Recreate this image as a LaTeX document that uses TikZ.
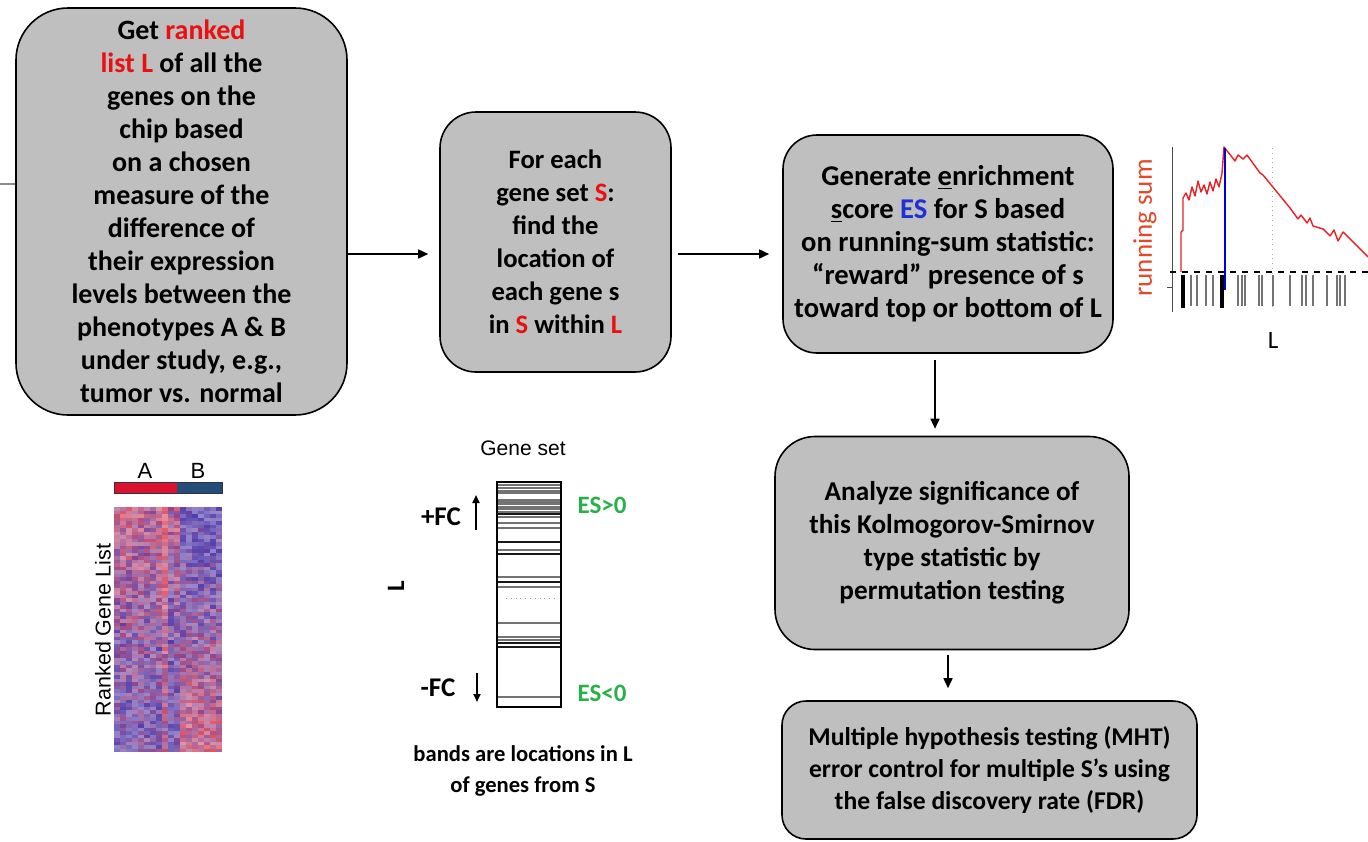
\documentclass[tikz,border=0pt]{standalone}
\usepackage{xcolor}
\usepackage{fontspec}
\setmainfont{Carlito}
\newfontfamily\arialfont{Liberation Sans}
\usepackage{tikz}
\usetikzlibrary{arrows.meta}

\definecolor{boxgray}{RGB}{191,191,191}
\definecolor{hlred}{RGB}{232,16,16}
\definecolor{esblue}{RGB}{32,48,215}
\definecolor{esgreen}{RGB}{40,176,75}
\definecolor{sumred}{RGB}{228,72,40}
\definecolor{curvered}{RGB}{235,30,35}
\definecolor{hmRed}{RGB}{228,70,85}
\definecolor{hmBlue}{RGB}{72,48,165}
\definecolor{barred}{RGB}{222,16,48}
\definecolor{barblue}{RGB}{34,78,120}

\tikzset{
  stepbox/.style={draw=black, line width=0.8pt, fill=boxgray, align=center,
    inner sep=0pt, font=\bfseries\fontsize{13.5}{16.5}\selectfont},
  flow/.style={-{Triangle[length=5pt,width=4.5pt]}, line width=0.8pt},
  boldlbl/.style={font=\bfseries\fontsize{12.5}{15.5}\selectfont, align=center, inner sep=0pt},
  band/.style={line width=0.6pt, black!55},
  darkband/.style={line width=0.8pt, black!90}
}

\begin{document}
\begin{tikzpicture}[x=0.5pt, y=-0.5pt]
    \useasboundingbox (0,0) rectangle (1368,841);

    % steps of the method
    \node[stepbox, font=\bfseries\fontsize{14}{16.5}\selectfont, minimum width=165.5pt, minimum height=203.5pt,
          rounded corners=26pt] (rank) at (181.5,211.5)
        {Get \textcolor{hlred}{ranked}\\ \textcolor{hlred}{list L} of all the\\ genes on the\\ chip based\\ on a chosen\\
         measure of the\\ difference of\\ their expression\\ levels between the\\ phenotypes A \& B\\ under study, e.g.,\\ tumor vs. normal};
    \node[stepbox, font=\bfseries\fontsize{13.3}{16.5}\selectfont, minimum width=115.5pt, minimum height=130pt,
          rounded corners=18pt] (locate) at (555.5,242)
        {For each\\ gene set \textcolor{hlred}{S}:\\ find the\\ location of\\ each gene s\\ in \textcolor{hlred}{S} within \textcolor{hlred}{L}};
    \node[stepbox, font=\bfseries\fontsize{14.3}{16.5}\selectfont, minimum width=165pt, minimum height=109pt,
          rounded corners=17pt] (score) at (948,244)
        {Generate \underline{e}nrichment\\ \underline{s}core \textcolor{esblue}{ES} for S based\\ on running-sum statistic:\\
         ``reward'' presence of s\\ toward top or bottom of L};
    \node[stepbox, font=\bfseries\fontsize{13.6}{16.5}\selectfont, minimum width=177pt, minimum height=106.5pt,
          rounded corners=20pt] (signif) at (952,543)
        {Analyze significance of\\ this Kolmogorov-Smirnov\\ type statistic by\\ permutation testing};
    \node[stepbox, font=\bfseries\fontsize{12.8}{16.2}\selectfont, minimum width=207.5pt, minimum height=69pt,
          rounded corners=12pt] (mht) at (989.5,770)
        {Multiple hypothesis testing (MHT)\\ error control for multiple S's using\\ the false discovery rate (FDR)};

    \coordinate (rowmid) at (0,254);
    \coordinate (colA) at (935,0);
    \coordinate (colB) at (948,0);
    \draw[flow, shorten >=5.5pt] (rank.east |- rowmid) -- (locate.west |- rowmid);
    \draw[flow, shorten <=3pt, shorten >=6.5pt] (locate.east |- rowmid) -- (score.west |- rowmid);
    \draw[flow, shorten <=3pt, shorten >=3.5pt] (score.south -| colA) -- (signif.north -| colA);
    \draw[flow, shorten <=2.5pt, shorten >=6pt] (signif.south -| colB) -- (mht.north -| colB);

    % stray line at the left border
    \draw[black!45, line width=0.8pt] (0,184) -- (15,184);

    % heat map of the ranked list
    \fill[barred] (114,482) rectangle (177,493);
    \fill[barblue] (177,482) rectangle (222,493);
    \draw[black!80, line width=0.5pt] (114,482) rectangle (222,493);
    \node[font=\arialfont\fontsize{11}{11}\selectfont] (lblA) at (145,471) {A};
    \node[font=\arialfont\fontsize{11}{11}\selectfont] (lblB) at (198,471) {B};
    \pgfmathsetseed{7}
    \foreach \c in {0,...,17}{
      \foreach \r in {0,...,69}{
        \pgfmathsetmacro{\t}{\r/69}
        \pgfmathsetmacro{\p}{(\c<11 ? 0.62-0.55*\t : -0.15+0.9*\t) + 0.32*rand + (\c==8 ? 0.35 : 0) - (\c==9 ? 0.2 : 0)}
        \pgfmathtruncatemacro{\v}{100*max(0,min(1,\p))}
        \pgfmathtruncatemacro{\w}{58+36*rnd}
        \fill[hmRed!\v!hmBlue!\w!white] (114+6*\c,507+3.5*\r) rectangle ++(6,3.5);
      }
    }
    \node[rotate=90, font=\arialfont\fontsize{10.75}{11}\selectfont] (ranklbl) at (103,630) {Ranked Gene List};

    % gene set bands
    \node[font=\arialfont\fontsize{10.5}{11}\selectfont] (gsetlbl) at (523,448) {Gene set};
    \foreach \y in {485,488,491,493,500,502,504,507,509,512,517,523,528,550,577,587,623,637,640,697}
        \draw[band] (497,\y) -- (561,\y);
    \foreach \y in {482,514,542,554,582,643,647}
        \draw[darkband] (497,\y) -- (561,\y);
    \draw[dotted, black!40] (506,598) -- (555,598);
    \draw[line width=1.1pt] (497,482) rectangle (561,707);
    \node[boldlbl, font=\bfseries\fontsize{13.5}{15.5}\selectfont] (posfc) at (441,517) {+FC};
    \node[boldlbl, font=\bfseries\fontsize{13.5}{15.5}\selectfont] (negfc) at (438,688) {-FC};
    \draw[-{Triangle[length=4pt,width=3.5pt]}, line width=0.9pt] (476,530) -- (476,495);
    \draw[-{Triangle[length=4pt,width=3.5pt]}, line width=0.9pt] (477,673) -- (477,702);
    \node[boldlbl, text=esgreen] (espos) at (602,505) {ES>0};
    \node[boldlbl, text=esgreen] (esneg) at (602,693) {ES<0};
    \node[boldlbl, rotate=90] (listlbl) at (396,586) {L};
    \node[boldlbl, font=\bfseries\fontsize{11.3}{15.5}\selectfont] (bandlbl) at (523,771) {bands are locations in L\\ of genes from S};

    % running sum plot
    \draw[black!70, line width=0.5pt] (1172,147) -- (1172,312);
    \draw[black!70, line width=0.5pt] (1167,287) -- (1172,287);
    \draw[dotted, black!35] (1272,148) -- (1272,310);
    \foreach \x in {1191,1197,1206,1213,1238,1242,1245,1259,1262,1273,1290,1302,1306,1313,1327,1337,1340,1345}
        \draw[black!55, line width=0.6pt] (\x,275) -- (\x,306);
    \foreach \x in {1182,1184,1221,1223}
        \draw[black, line width=0.8pt] (\x,275) -- (\x,308);
    \draw[dashed, line width=0.6pt] (1170,272) -- (1368,272);
    \draw[curvered, line width=0.7pt, line join=round]
        (1181,272) -- (1181,232) -- (1183,230) -- (1183,198) -- (1186,193) -- (1189,200) -- (1192,187)
        -- (1195,196) -- (1198,181) -- (1201,192) -- (1204,185) -- (1207,194) -- (1210,182) -- (1213,191)
        -- (1216,179) -- (1219,187) -- (1222,173) -- (1224,147) -- (1235,161) -- (1238,155) -- (1243,159)
        -- (1247,155) -- (1260,173) -- (1263,175) -- (1290,208) -- (1298,219) -- (1301,215) -- (1307,223)
        -- (1310,218) -- (1313,226) -- (1323,229) -- (1330,236) -- (1334,230) -- (1338,241) -- (1343,232)
        -- (1350,239) -- (1368,257);
    \draw[blue!85!black, line width=1pt] (1225,148) -- (1225,290);
    \node[rotate=90, text=sumred, font=\fontsize{13.5}{14}\selectfont] (sumlbl) at (1145,228) {running sum};
    \node[font=\fontsize{12.5}{13}\selectfont] (plotL) at (1273,340) {L};
\end{tikzpicture}
\end{document}
